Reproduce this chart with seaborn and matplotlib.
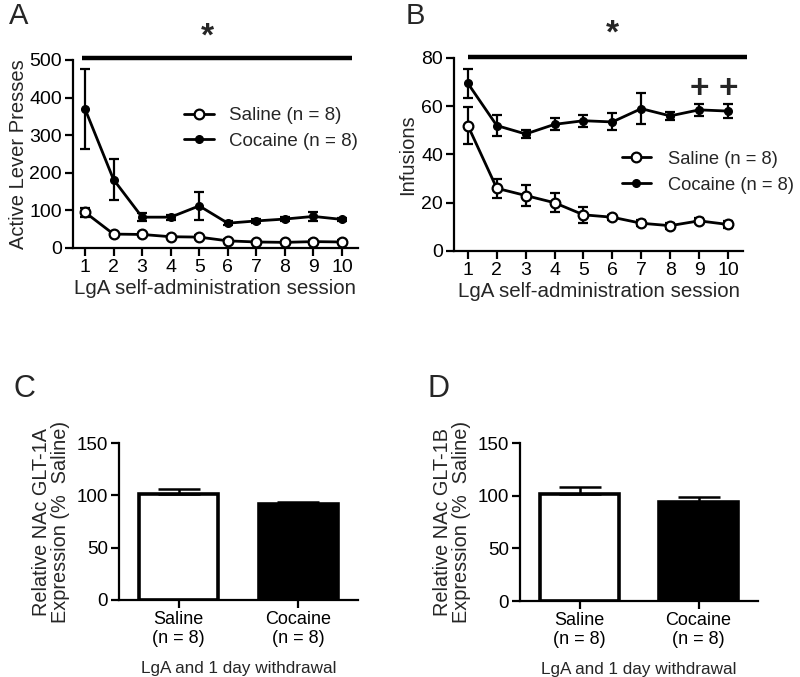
import matplotlib
matplotlib.use("Agg")
import matplotlib.pyplot as plt
from matplotlib.lines import Line2D
import pandas as pd
import seaborn as sns

# ---- data ----
sessions = [1, 2, 3, 4, 5, 6, 7, 8, 9, 10]

# panel A: active lever presses
a_cocaine = [370, 182, 82, 82, 112, 66, 72, 77, 84, 76]
a_cocaine_err = [106, 55, 10, 7, 38, 5, 6, 6, 12, 5]
a_saline = [95, 37, 36, 30, 29, 19, 16, 15, 17, 16]
a_saline_err = [12, 4, 4, 3, 6, 4, 3, 3, 4, 4]

# panel B: infusions
b_cocaine = [69.5, 52, 48.5, 52.5, 54, 53.5, 59, 56, 58.5, 58]
b_cocaine_err = [6, 4.5, 1.5, 2.5, 2.5, 3.5, 6.5, 1.5, 2.5, 2.8]
b_saline = [52, 26, 23, 20, 15, 14, 11.5, 10.5, 12.5, 11]
b_saline_err = [7.5, 4, 4.5, 4, 3.3, 1, 1.2, 1.2, 1, 1.3]
plus_sessions = [9, 10]

# panels C and D: GLT-1 expression
groups = ["Saline\n(n = 8)", "Cocaine\n(n = 8)"]
c_values = [101, 91.4]
c_err = [5, 1.8]
d_values = [101.6, 94.3]
d_err = [6.4, 4.5]

sns.set_style("ticks")
plt.rcParams["font.family"] = ["Liberation Sans", "DejaVu Sans"]
plt.rcParams["axes.linewidth"] = 1.6

W, H = 800, 677
fig = plt.figure(figsize=(8, 6.77), dpi=100)


def px_axes(left, top, right, bottom):
    return fig.add_axes([left / W, 1 - bottom / H, (right - left) / W, (bottom - top) / H])


def style_axes(ax, size):
    sns.despine(ax=ax)
    ax.tick_params(direction="out", length=6, width=1.6, pad=2, labelsize=size, colors="black")
    for s in ax.spines.values():
        s.set_color("black")


def legend_handles():
    sal = Line2D([], [], color="black", lw=2, marker="o", mfc="white", mec="black", mew=1.6, ms=7)
    coc = Line2D([], [], color="black", lw=2, marker="o", ms=5.5)
    return [sal, coc], ["Saline (n = 8)", "Cocaine (n = 8)"]


def line_panel(ax, x, coc, coc_err, sal, sal_err):
    df = pd.DataFrame({"session": x * 2,
                       "value": sal + coc,
                       "group": ["Saline (n = 8)"] * len(x) + ["Cocaine (n = 8)"] * len(x)})
    sns.lineplot(data=df, x="session", y="value", hue="group",
                 palette=["black", "black"], linewidth=2, ax=ax, legend=False,
                 clip_on=False)
    ax.errorbar(x, coc, yerr=coc_err, fmt="o", color="black", ms=5.5, capsize=3.5,
                elinewidth=1.6, capthick=1.6, clip_on=False, zorder=4)
    ax.errorbar(x, sal, yerr=sal_err, fmt="o", color="black", mfc="white", mec="black",
                mew=1.6, ms=7, capsize=3.5, elinewidth=1.6, capthick=1.6,
                clip_on=False, zorder=4)
    ax.set_xticks(x)
    style_axes(ax, 14)
    ax.set_xlabel("LgA self-administration session", fontsize=14.8, labelpad=2)


# ---- panel A ----
axA = px_axes(73, 60, 358, 248)
line_panel(axA, sessions, a_cocaine, a_cocaine_err, a_saline, a_saline_err)
axA.set_xlim(0.58, 10.56)
axA.set_ylim(0, 500)
axA.set_yticks([0, 100, 200, 300, 400, 500])
axA.set_ylabel("Active Lever Presses", fontsize=14.5, labelpad=1)
axA.plot([0.9, 10.35], [505, 505], color="black", lw=3.2, clip_on=False, solid_capstyle="butt")
axA.text(5.3, 562, "*", fontsize=24, fontweight="bold", ha="center", va="center")
h, l = legend_handles()
axA.legend(h, l, loc="upper left", bbox_to_anchor=(0.39, 0.75),
           frameon=False, fontsize=13.5, handlelength=1.6, handletextpad=0.8,
           borderpad=0, borderaxespad=0, labelspacing=0.45)
fig.text(19 / W, 1 - 16 / H, "A", fontsize=21, ha="center", va="center")

# ---- panel B ----
axB = px_axes(454, 58, 743, 251)
line_panel(axB, sessions, b_cocaine, b_cocaine_err, b_saline, b_saline_err)
axB.set_xlim(0.52, 10.52)
axB.set_ylim(0, 80)
axB.set_yticks([0, 20, 40, 60, 80])
axB.set_ylabel("Infusions", fontsize=14.5, labelpad=3)
axB.plot([1.0, 10.66], [80.5, 80.5], color="black", lw=3.2, clip_on=False, solid_capstyle="butt")
axB.text(6.0, 90, "*", fontsize=24, fontweight="bold", ha="center", va="center")
for s in plus_sessions:
    axB.text(s, 67, "+", fontsize=24, fontweight="bold", ha="center", va="center")
h, l = legend_handles()
axB.legend(h, l, loc="upper left", bbox_to_anchor=(0.58, 0.52),
           frameon=False, fontsize=13.2, handlelength=1.6, handletextpad=0.95,
           borderpad=0, borderaxespad=0, labelspacing=0.5)
fig.text(415 / W, 1 - 16 / H, "B", fontsize=21, ha="center", va="center")


# ---- bar panels ----
def bar_panel(ax, values, err, ylabel):
    df = pd.DataFrame({"group": groups, "value": values})
    sns.barplot(data=df, x="group", y="value", hue="group",
                palette=["white", "black"], edgecolor="black", linewidth=2.6,
                width=0.66, ax=ax, legend=False)
    ax.errorbar([0, 1], values, yerr=[[0, 0], err], fmt="none", ecolor="black",
                elinewidth=1.8, capsize=15, capthick=1.8, zorder=1)
    ax.set_xlim(-0.5, 1.5)
    ax.set_ylim(0, 150)
    ax.set_yticks([0, 50, 100, 150])
    style_axes(ax, 13.5)
    ax.set_ylabel(ylabel, fontsize=14.3, labelpad=5, linespacing=1.0)
    ax.set_xlabel("LgA and 1 day withdrawal", fontsize=12.3, labelpad=10)
    ax.tick_params(axis="x", labelsize=13)
    for t in ax.get_xticklabels():
        t.set_linespacing(1.15)


axC = px_axes(119, 443, 358, 600)
bar_panel(axC, c_values, c_err, "Relative NAc GLT-1A\nExpression (%  Saline)")
fig.text(24 / W, 1 - 389 / H, "C", fontsize=22, ha="center", va="center")

axD = px_axes(520, 443, 758, 601)
bar_panel(axD, d_values, d_err, "Relative NAc GLT-1B\nExpression (%  Saline)")
fig.text(438 / W, 1 - 389 / H, "D", fontsize=22, ha="center", va="center")

fig.savefig("out.png", dpi=100)
